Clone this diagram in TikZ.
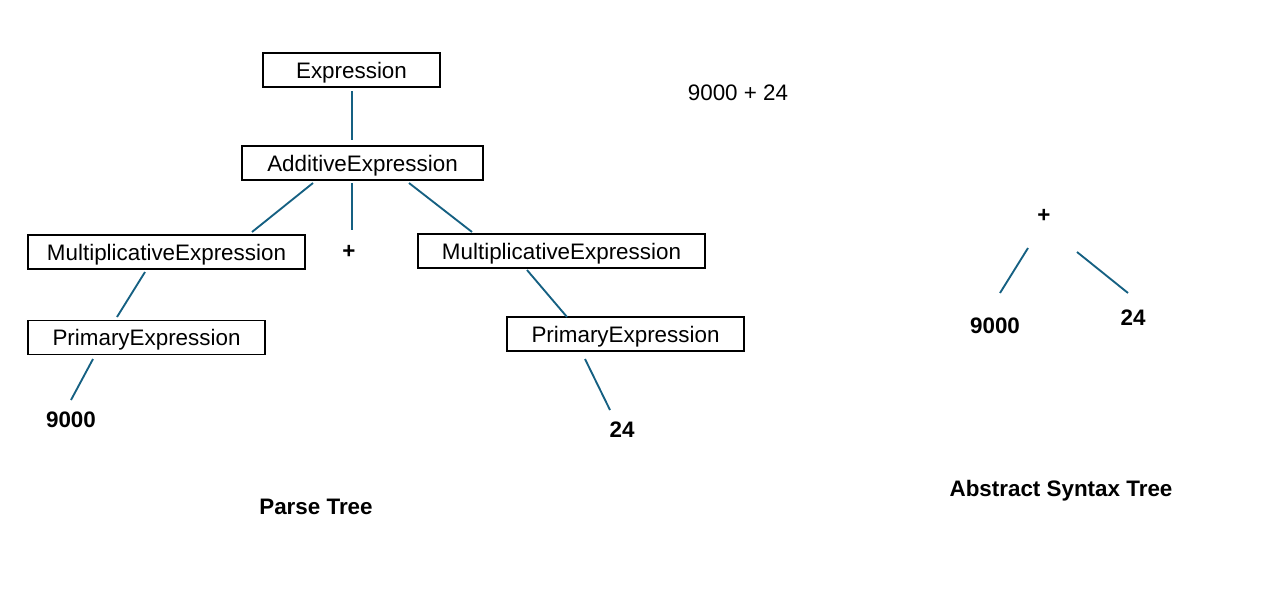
\documentclass[tikz,border=0pt]{standalone}
\usepackage{fontspec}
\setmainfont{Liberation Sans}
\definecolor{linkblue}{HTML}{156082}
\begin{document}
\begin{tikzpicture}[x=0.75pt,y=-0.75pt,
  box/.style={draw=black,line width=1.3pt,inner sep=0pt,minimum height=25.5pt,text depth=0pt,font=\fontsize{16.8}{20}\selectfont},
  lbl/.style={inner sep=0pt,text depth=0pt,font=\fontsize{16.8}{20}\selectfont},
  blbl/.style={inner sep=0pt,text depth=0pt,font=\fontsize{16.8}{20}\selectfont\bfseries},
  conn/.style={draw=linkblue,line width=1.4pt}]
\useasboundingbox (0,0) rectangle (1280,607);
% Parse tree nodes
\node[box,minimum width=132.75pt] (expr) at (351.5,70) {Expression};
\node[box,minimum width=180.75pt] (add) at (362.5,163) {AdditiveExpression};
\node[box,minimum width=207.75pt] (mulL) at (166.5,252) {MultiplicativeExpression};
\node[blbl] (plusP) at (349,252) {+};
\node[box,minimum width=215.25pt] (mulR) at (561.5,251) {MultiplicativeExpression};
\node[box,minimum width=177.75pt] (primL) at (146.5,337.5) {PrimaryExpression};
\node[box,minimum width=177.75pt] (primR) at (625.5,334) {PrimaryExpression};
\node[blbl] (n9000) at (71,420) {9000};
\node[blbl] (n24) at (622,430) {24};
\node[lbl] (src) at (738,93) {9000 + 24};
\node[blbl] (ptitle) at (316,507) {Parse Tree};
% AST nodes
\node[blbl] (plusA) at (1044,216) {+};
\node[blbl] (a9000) at (995,326) {9000};
\node[blbl] (a24) at (1133,318) {24};
\node[blbl] (atitle) at (1061,488) {Abstract Syntax Tree};
% connector end points
\coordinate (c1a) at (352,91);  \coordinate (c1b) at (352,140);
\coordinate (c2a) at (313,183); \coordinate (c2b) at (252,232);
\coordinate (c3a) at (352,183); \coordinate (c3b) at (352,230);
\coordinate (c4a) at (409,183); \coordinate (c4b) at (472,232);
\coordinate (c5a) at (145,272); \coordinate (c5b) at (117,317);
\coordinate (c6a) at (93,359);  \coordinate (c6b) at (71,400);
\coordinate (c7a) at (527,270); \coordinate (c7b) at (567,317);
\coordinate (c8a) at (585,359); \coordinate (c8b) at (610,410);
\coordinate (c9a) at (1028,248); \coordinate (c9b) at (1000,293);
\coordinate (c10a) at (1077,252); \coordinate (c10b) at (1128,293);
% connectors
\draw[conn] (c1a) -- (c1b);
\draw[conn] (c2a) -- (c2b);
\draw[conn] (c3a) -- (c3b);
\draw[conn] (c4a) -- (c4b);
\draw[conn] (c5a) -- (c5b);
\draw[conn] (c6a) -- (c6b);
\draw[conn] (c7a) -- (c7b);
\draw[conn] (c8a) -- (c8b);
\draw[conn] (c9a) -- (c9b);
\draw[conn] (c10a) -- (c10b);
\end{tikzpicture}
\end{document}
